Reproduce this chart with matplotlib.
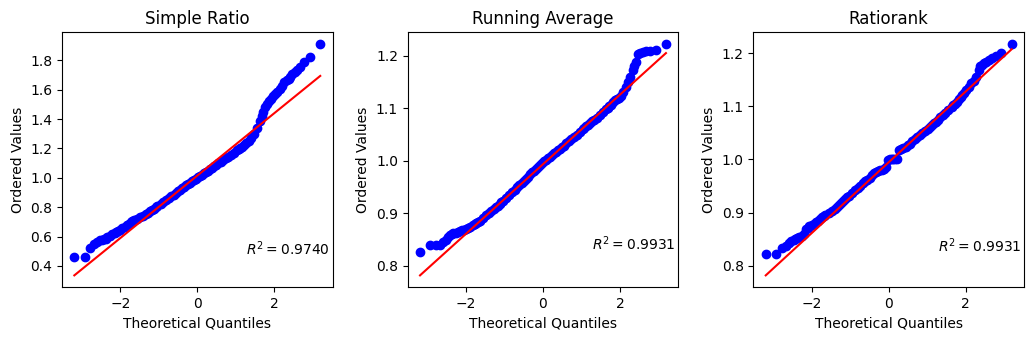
import numpy as np
import matplotlib
matplotlib.use("Agg")
import matplotlib.pyplot as plt
from statistics import NormalDist

# ---- data ----
sample_size = 1000
ranks = [1, 2, 3, 4, 5, 6, 7, 8, 9, 10,
         12, 14, 16, 18, 20, 23, 26, 30, 34, 38, 42, 46, 50,
         60, 70, 80, 90, 100, 110, 120, 130, 140, 150,
         170, 190, 210, 230, 250, 270, 290, 310, 330, 350, 370, 390, 410, 430, 450, 470, 490,
         510, 530, 550, 570, 590, 610, 630, 650, 670, 690, 710, 730, 750, 770, 790, 810, 830,
         850, 860, 870, 880, 890, 900, 910, 920, 930, 940, 950,
         954, 958, 962, 966, 970, 973, 976, 979, 982, 985, 987, 989,
         991, 992, 993, 994, 995, 996, 997, 998, 999, 1000]

titles = ["Simple Ratio", "Running Average", "Ratiorank"]

simple_ratio = [0.46, 0.46, 0.525, 0.55, 0.565, 0.575, 0.578, 0.58, 0.58, 0.595,
                0.605, 0.615, 0.625, 0.632, 0.64, 0.648, 0.658, 0.668, 0.678, 0.688, 0.697, 0.705, 0.712,
                0.72, 0.73, 0.742, 0.752, 0.763, 0.772, 0.781, 0.79, 0.80, 0.808,
                0.822, 0.836, 0.85, 0.862, 0.874, 0.886, 0.897, 0.908, 0.918, 0.928, 0.938, 0.948, 0.958, 0.968, 0.977, 0.986, 0.995,
                1.004, 1.013, 1.022, 1.031, 1.040, 1.049, 1.058, 1.068, 1.078, 1.088, 1.098, 1.109, 1.12, 1.132, 1.145, 1.158, 1.172,
                1.187, 1.195, 1.203, 1.212, 1.222, 1.234, 1.25, 1.27, 1.30, 1.34, 1.39,
                1.42, 1.45, 1.48, 1.505, 1.525, 1.54, 1.555, 1.57, 1.585, 1.605, 1.625, 1.65,
                1.665, 1.675, 1.69, 1.705, 1.72, 1.735, 1.755, 1.79, 1.825, 1.915]

running_average = [0.827, 0.840, 0.840, 0.840, 0.845, 0.850, 0.855, 0.859, 0.861, 0.862,
                   0.863, 0.864, 0.866, 0.868, 0.869, 0.871, 0.873, 0.875, 0.877, 0.879, 0.882, 0.884, 0.886,
                   0.891, 0.896, 0.900, 0.904, 0.908, 0.912, 0.915, 0.918, 0.921, 0.924,
                   0.930, 0.935, 0.940, 0.945, 0.950, 0.954, 0.958, 0.962, 0.966, 0.970, 0.974, 0.978, 0.981, 0.985, 0.988, 0.992, 0.995,
                   0.999, 1.002, 1.005, 1.008, 1.011, 1.014, 1.017, 1.020, 1.023, 1.026, 1.029, 1.033, 1.037, 1.041, 1.045, 1.050, 1.055,
                   1.060, 1.063, 1.066, 1.069, 1.072, 1.075, 1.078, 1.082, 1.087, 1.092, 1.098,
                   1.101, 1.104, 1.107, 1.111, 1.115, 1.118, 1.120, 1.124, 1.130, 1.140, 1.150, 1.160,
                   1.172, 1.180, 1.187, 1.204, 1.205, 1.206, 1.208, 1.209, 1.210, 1.223]

ratiorank = [0.822, 0.822, 0.834, 0.837, 0.842, 0.846, 0.849, 0.851, 0.853, 0.855,
             0.857, 0.860, 0.870, 0.872, 0.874, 0.877, 0.879, 0.882, 0.885, 0.888, 0.891, 0.893, 0.895,
             0.899, 0.903, 0.907, 0.911, 0.915, 0.919, 0.922, 0.926, 0.929, 0.932,
             0.937, 0.942, 0.946, 0.951, 0.955, 0.959, 0.962, 0.966, 0.970, 0.974, 0.977, 0.978, 0.980, 0.981, 0.983, 0.985, 0.999,
             1.000, 1.000, 1.000, 1.000, 1.001, 1.017, 1.019, 1.021, 1.024, 1.027, 1.030, 1.034, 1.038, 1.042, 1.046, 1.050, 1.054,
             1.058, 1.061, 1.064, 1.068, 1.071, 1.075, 1.079, 1.083, 1.088, 1.093, 1.099,
             1.102, 1.105, 1.109, 1.113, 1.117, 1.121, 1.125, 1.130, 1.136, 1.143, 1.148, 1.155,
             1.168, 1.176, 1.178, 1.181, 1.184, 1.187, 1.190, 1.194, 1.200, 1.218]

series = [simple_ratio, running_average, ratiorank]
fit_slope = [0.2125, 0.0661, 0.0665]
fit_intercept = [1.015, 0.9935, 0.9947]
r_squared = [0.9740, 0.9931, 0.9931]

# ---- theoretical quantiles (Filliben order statistic medians) ----
nd = NormalDist()
def filliben(i, n):
    if i == 1:
        p = 1 - 0.5 ** (1.0 / n)
    elif i == n:
        p = 0.5 ** (1.0 / n)
    else:
        p = (i - 0.3175) / (n + 0.365)
    return nd.inv_cdf(p)

osm = np.array([filliben(i, sample_size) for i in ranks])

fig, axes = plt.subplots(1, 3, figsize=(10.32, 3.4), dpi=100)
fig.subplots_adjust(left=0.0601, right=0.9922, top=0.906, bottom=0.156, wspace=0.278)

for ax, title, vals, m, b, r2 in zip(axes, titles, series, fit_slope, fit_intercept, r_squared):
    osr = np.array(vals)
    ax.plot(osm, osr, 'bo')
    ax.plot(osm, m * osm + b, 'r-')
    ax.set_title(title)
    ax.set_xlabel("Theoretical Quantiles")
    ax.set_ylabel("Ordered Values")
    xmin, xmax = osm.min(), osm.max()
    ymin, ymax = osr.min(), osr.max()
    posx = xmin + 0.70 * (xmax - xmin)
    posy = ymin + 0.01 * (ymax - ymin)
    ax.text(posx, posy, "$R^2=%1.4f$" % r2)

fig.savefig("out.png", dpi=100)
